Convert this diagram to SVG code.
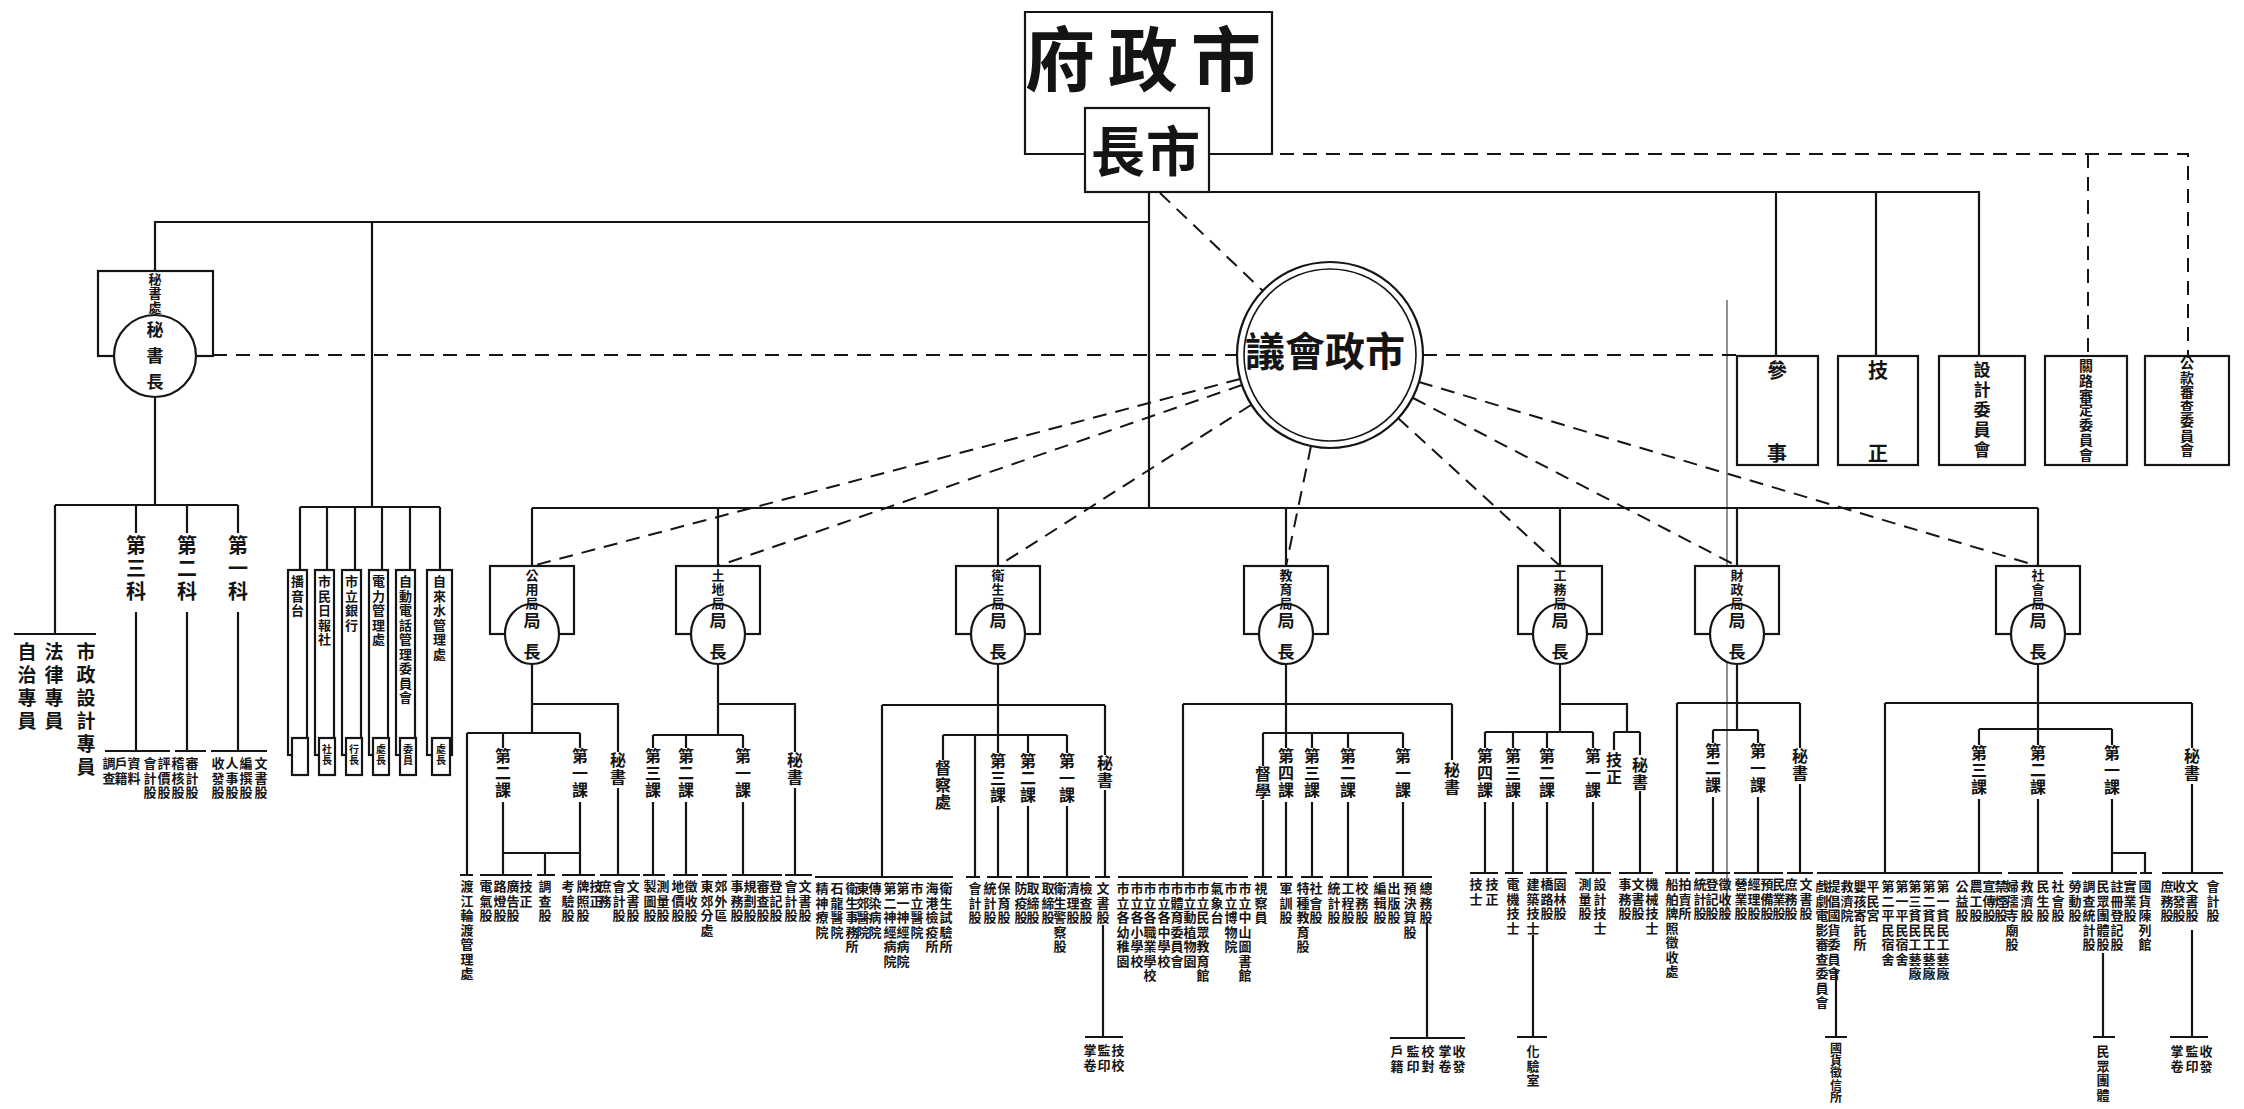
<svg xmlns="http://www.w3.org/2000/svg" width="2244" height="1109" viewBox="0 0 2244 1109">
<style>
.ln{stroke:#151515;stroke-width:2.2;fill:none}
.thin{stroke:#151515;stroke-width:1.6;fill:none}
.ds{stroke:#151515;stroke-width:2;fill:none;stroke-dasharray:14 9}
.box{fill:#fff;stroke:#151515;stroke-width:2.2}
.t{font-family:"Noto Sans CJK TC","Noto Sans CJK SC","Noto Sans CJK JP",sans-serif;font-weight:700;fill:#141414}
.v{writing-mode:vertical-rl}
.a{font-size:13px;letter-spacing:1.5px}
.k{font-size:16px;letter-spacing:1px}
.b{font-size:13px;letter-spacing:1px}
.c{font-size:17px;letter-spacing:14px}
.m{font-size:20px;letter-spacing:3px}
.p{font-size:19px;letter-spacing:4px}
.w{font-size:10px;letter-spacing:1px}
</style>
<rect width="2244" height="1109" fill="#fff"/>

<g id="connectors">
<path class="ln" d="M1209,192H1979V356M1776,192V356M1876,192V356M1149,192V508M155,271V222H1149M372,222V507M532,508H2038M532,508V566M718,508V566M998,508V566M1286,508V566M1560,508V566M1737,508V566M2038,508V566"/>
<path class="ds" d="M1280,154H2188V356M2088,154V356M213,355H1237M1423,355H1737M1160,193L1263,291M1240,379L532,566M1242,385L718,566M1251,405L998,566M1311,446L1286,566M1398,418L1560,566M1413,398L1737,566M1419,382L2038,566"/>
<path class="ln" d="M155,397V505M55,505H238M55,505V634M14,634H96M136,505V533M136,612V751M187,505V533M187,612V751M238,505V533M238,612V751M105,751H170M175,751H206M211,751H267"/>
<path class="ln" d="M300,507H440M300,507V570M327,507V570M355,507V570M382,507V570M410,507V570M440,507V570"/>
<path class="ln" d="M532,664V733M532,704H618V752M618,788V875M467,733H580M467,733V875M503,733V748M503,802V875M580,733V748M580,802V875M503,853H580M545,853V875M460,875H473M480,875H532M537,875H555M562,875H595M600,875H640"/>
<path class="ln" d="M718,664V735M718,704H795V752M795,788V875M653,735H743M653,735V748M653,802V875M686,735V748M686,802V875M743,735V748M743,802V875M643,875H665M673,875H698M702,875H727M732,875H782M785,875H812"/>
<path class="ln" d="M998,664V753M998,806V877M882,705H1105M882,705V877M1105,705V755M1105,790V877M943,735H1067M943,735V760M975,735V877M1028,735V753M1028,806V877M1067,735V753M1067,806V877M1103,925V1037M1085,1037H1123M815,877H953M966,877H980M987,877H1012M1016,877H1040M1043,877H1090M1095,877H1110"/>
<path class="ln" d="M1286,664V748M1286,802V877M1183,704H1452M1183,704V877M1452,704V760M1263,733H1403M1263,733V766M1263,800V877M1312,733V748M1312,802V877M1348,733V748M1348,802V877M1403,733V748M1403,802V877M1427,923V1038M1390,1038H1465M1118,877H1248M1254,877H1272M1277,877H1293M1301,877H1323M1330,877H1368M1373,877H1432"/>
<path class="ln" d="M1560,664V732M1560,704H1627V732M1614,732H1640M1614,732V750M1640,732V755M1640,791V873M1485,732H1593M1485,732V748M1485,802V873M1513,732V748M1513,802V873M1547,732V748M1547,802V873M1593,732V748M1593,802V873M1533,935V1037M1517,1037H1547M1470,873H1498M1505,873H1523M1530,873H1567M1575,873H1611M1619,873H1653"/>
<path class="ln" d="M1737,664V730M1713,730H1758M1713,730V743M1713,797V873M1758,730V743M1758,797V873M1677,703H1800M1677,703V873M1800,703V748M1800,784V873M1665,873H1690M1695,873H1730M1734,873H1783M1787,873H1813"/>
<path class="thin" d="M1727,300V920" stroke-opacity="0.6"/>
<path class="ln" d="M2038,664V745M2038,799V873M1885,703H2192M1885,703V873M2192,703V748M2192,784V873M2192,930V1037M2170,1037H2208M1979,729H2112M1979,729V745M1979,799V873M2112,729V745M2112,799V873M2112,853H2145V873M1836,970V1037M1825,1037H1847M2103,953V1037M2093,1037H2115M1817,873H2002M2008,873H2063M2072,873H2137M2140,873H2152M2162,873H2223"/>
</g>

<g id="city-government">
<path class="ln" d="M1085,154H1025V12H1272V154H1209"/>
<text class="t" x="1025" y="86" font-size="70" letter-spacing="13">府政市</text>
</g>
<g id="mayor">
<rect class="box" x="1085" y="108" width="124" height="84"/>
<text class="t" x="1091" y="172" font-size="54" letter-spacing="1">長市</text>
</g>
<g id="council">
<circle class="box" cx="1330" cy="355" r="93"/>
<circle cx="1330" cy="355" r="86" fill="none" stroke="#151515" stroke-width="1.6"/>
<text class="t" x="1245" y="366" font-size="40">議會政市</text>
</g>

<g id="secretariat">
<rect class="box" x="98" y="271" width="115" height="85"/>
<circle class="box" cx="155" cy="356" r="41"/>
<text class="t v b" x="155" y="273">秘書處</text>
<text class="t v" x="155" y="321" font-size="17" letter-spacing="9">秘書長</text>
<text class="t v p" x="27" y="642">自治專員</text>
<text class="t v p" x="54" y="642">法律專員</text>
<text class="t v p" x="86" y="642">市政設計專員</text>
<text class="t v m" x="136" y="535">第三科</text>
<text class="t v m" x="187" y="535">第二科</text>
<text class="t v m" x="238" y="535">第一科</text>
<text class="t v a" x="109" y="757">調查</text>
<text class="t v a" x="121" y="757">戶籍</text>
<text class="t v a" x="134" y="757">資料</text>
<text class="t v a" x="150" y="757">會計股</text>
<text class="t v a" x="164" y="757">評價股</text>
<text class="t v a" x="178" y="757">稽核股</text>
<text class="t v a" x="192" y="757">審計股</text>
<text class="t v a" x="218" y="757">收發股</text>
<text class="t v a" x="232" y="757">人事股</text>
<text class="t v a" x="246" y="757">編撰股</text>
<text class="t v a" x="261" y="757">文書股</text>
</g>

<g id="enterprises">
<rect class="box" x="288" y="570" width="19" height="185"/>
<rect class="box" x="315" y="570" width="19" height="185"/>
<rect class="box" x="342" y="570" width="19" height="185"/>
<rect class="box" x="369" y="570" width="19" height="185"/>
<rect class="box" x="396" y="570" width="19" height="185"/>
<rect class="box" x="427" y="570" width="25" height="185"/>
<rect class="box" x="292" y="738" width="16" height="37"/>
<rect class="box" x="319" y="738" width="16" height="37"/>
<rect class="box" x="346" y="738" width="16" height="37"/>
<rect class="box" x="373" y="738" width="16" height="37"/>
<rect class="box" x="400" y="738" width="16" height="37"/>
<rect class="box" x="432" y="738" width="18" height="37"/>
<text class="t v a" x="297.5" y="575">播音台</text>
<text class="t v a" x="324.5" y="575">市民日報社</text>
<text class="t v a" x="351.5" y="575">市立銀行</text>
<text class="t v a" x="378.5" y="575">電力管理處</text>
<text class="t v a" x="405.5" y="575">自動電話管理委員會</text>
<text class="t v a" x="439.5" y="575">自來水管理處</text>
<text class="t v w" x="327" y="744">社長</text>
<text class="t v w" x="354" y="744">行長</text>
<text class="t v w" x="381" y="744">處長</text>
<text class="t v w" x="408" y="744">委員</text>
<text class="t v w" x="441" y="744">處長</text>
</g>

<g id="advisers">
<rect class="box" x="1737" y="356" width="81" height="109"/>
<rect class="box" x="1838" y="356" width="80" height="109"/>
<rect class="box" x="1939" y="356" width="86" height="109"/>
<rect class="box" x="2045" y="356" width="82" height="109"/>
<rect class="box" x="2145" y="356" width="84" height="109"/>
<text class="t" x="1777" y="378" font-size="20" text-anchor="middle">參</text>
<text class="t" x="1777" y="461" font-size="20" text-anchor="middle">事</text>
<text class="t" x="1878" y="378" font-size="20" text-anchor="middle">技</text>
<text class="t" x="1878" y="461" font-size="20" text-anchor="middle">正</text>
<text class="t v" x="1982" y="361" font-size="17" letter-spacing="3">設計委員會</text>
<text class="t v" x="2086" y="359" font-size="14" letter-spacing="0.7">關路審定委員會</text>
<text class="t v" x="2187" y="356" font-size="14" letter-spacing="0.5">公款審查委員會</text>
</g>

<g id="bureau-public-utilities">
<rect class="box" x="490" y="566" width="84" height="68"/>
<ellipse class="box" cx="532" cy="634" rx="27" ry="30"/>
<text class="t v b" x="532" y="569">公用局</text>
<text class="t v c" x="532" y="612">局長</text>
<text class="t v k" x="503" y="748">第二課</text>
<text class="t v k" x="580" y="748">第一課</text>
<text class="t v k" x="618" y="752">秘書</text>
<text class="t v a" x="467" y="880">渡江輪渡管理處</text>
<text class="t v a" x="486" y="880">電氣股</text>
<text class="t v a" x="500" y="880">路燈股</text>
<text class="t v a" x="513" y="880">廣告股</text>
<text class="t v a" x="526" y="880">技正</text>
<text class="t v a" x="545" y="880">調查股</text>
<text class="t v a" x="568" y="880">考驗股</text>
<text class="t v a" x="583" y="880">牌照股</text>
<text class="t v a" x="596" y="880">技正</text>
<text class="t v a" x="605" y="880">庶務</text>
<text class="t v a" x="619" y="880">會計股</text>
<text class="t v a" x="633" y="880">文書股</text>
</g>

<g id="bureau-land">
<rect class="box" x="676" y="566" width="84" height="68"/>
<ellipse class="box" cx="718" cy="634" rx="27" ry="30"/>
<text class="t v b" x="718" y="569">土地局</text>
<text class="t v c" x="718" y="612">局長</text>
<text class="t v k" x="653" y="748">第三課</text>
<text class="t v k" x="686" y="748">第二課</text>
<text class="t v k" x="743" y="748">第一課</text>
<text class="t v k" x="795" y="752">秘書</text>
<text class="t v a" x="650" y="880">製圖股</text>
<text class="t v a" x="663" y="880">測量股</text>
<text class="t v a" x="678" y="880">地價股</text>
<text class="t v a" x="691" y="880">徵收股</text>
<text class="t v a" x="707" y="880">東郊分處</text>
<text class="t v a" x="721" y="880">郊外區</text>
<text class="t v a" x="737" y="880">事務股</text>
<text class="t v a" x="750" y="880">規劃股</text>
<text class="t v a" x="763" y="880">審查股</text>
<text class="t v a" x="776" y="880">登記股</text>
<text class="t v a" x="791" y="880">會計股</text>
<text class="t v a" x="805" y="880">文書股</text>
</g>

<g id="bureau-health">
<rect class="box" x="956" y="566" width="84" height="68"/>
<ellipse class="box" cx="998" cy="634" rx="27" ry="30"/>
<text class="t v b" x="998" y="569">衛生局</text>
<text class="t v c" x="998" y="612">局長</text>
<text class="t v k" x="943" y="760">督察處</text>
<text class="t v k" x="998" y="753">第三課</text>
<text class="t v k" x="1028" y="753">第二課</text>
<text class="t v k" x="1067" y="753">第一課</text>
<text class="t v k" x="1105" y="755">秘書</text>
<text class="t v a" x="822" y="882">精神療院</text>
<text class="t v a" x="837" y="882">石龍醫院</text>
<text class="t v a" x="852" y="882">衛生事務所</text>
<text class="t v a" x="863" y="882">東郊醫院</text>
<text class="t v a" x="875" y="882">傳染病院</text>
<text class="t v a" x="890" y="882">第二神經病院</text>
<text class="t v a" x="903" y="882">第一神經病院</text>
<text class="t v a" x="917" y="882">市立醫院</text>
<text class="t v a" x="932" y="882">海港檢疫所</text>
<text class="t v a" x="946" y="882">衛生試驗所</text>
<text class="t v a" x="975" y="882">會計股</text>
<text class="t v a" x="990" y="882">統計股</text>
<text class="t v a" x="1004" y="882">保育股</text>
<text class="t v a" x="1021" y="882">防疫股</text>
<text class="t v a" x="1033" y="882">取締股</text>
<text class="t v a" x="1048" y="882">取締股</text>
<text class="t v a" x="1060" y="882">衛生警察股</text>
<text class="t v a" x="1073" y="882">清理股</text>
<text class="t v a" x="1086" y="882">檢查股</text>
<text class="t v a" x="1103" y="882">文書股</text>
<text class="t v a" x="1090" y="1044">掌卷</text>
<text class="t v a" x="1104" y="1044">監印</text>
<text class="t v a" x="1118" y="1044">技校</text>
</g>

<g id="bureau-education">
<rect class="box" x="1244" y="566" width="84" height="68"/>
<ellipse class="box" cx="1286" cy="634" rx="27" ry="30"/>
<text class="t v b" x="1286" y="569">教育局</text>
<text class="t v c" x="1286" y="612">局長</text>
<text class="t v k" x="1263" y="766">督學</text>
<text class="t v k" x="1286" y="748">第四課</text>
<text class="t v k" x="1312" y="748">第三課</text>
<text class="t v k" x="1348" y="748">第二課</text>
<text class="t v k" x="1403" y="748">第一課</text>
<text class="t v k" x="1452" y="762">秘書</text>
<text class="t v a" x="1123" y="882">市立各幼稚園</text>
<text class="t v a" x="1137" y="882">市立各小學校</text>
<text class="t v a" x="1150" y="882">市立各職業學校</text>
<text class="t v a" x="1164" y="882">市立各中學校</text>
<text class="t v a" x="1177" y="882">市體育委員會</text>
<text class="t v a" x="1190" y="882">市立動植物園</text>
<text class="t v a" x="1203" y="882">市立民眾教育館</text>
<text class="t v a" x="1217" y="882">氣象台</text>
<text class="t v a" x="1231" y="882">市立博物院</text>
<text class="t v a" x="1245" y="882">市立中山圖書館</text>
<text class="t v a" x="1261" y="882">視察員</text>
<text class="t v a" x="1286" y="882">軍訓股</text>
<text class="t v a" x="1303" y="882">特種教育股</text>
<text class="t v a" x="1316" y="882">社會股</text>
<text class="t v a" x="1334" y="882">統計股</text>
<text class="t v a" x="1348" y="882">工程股</text>
<text class="t v a" x="1362" y="882">校務股</text>
<text class="t v a" x="1380" y="882">編輯股</text>
<text class="t v a" x="1394" y="882">出版股</text>
<text class="t v a" x="1410" y="882">預決算股</text>
<text class="t v a" x="1426" y="882">總務股</text>
<text class="t v a" x="1397" y="1045">戶籍</text>
<text class="t v a" x="1413" y="1045">監印</text>
<text class="t v a" x="1428" y="1045">校對</text>
<text class="t v a" x="1445" y="1045">掌卷</text>
<text class="t v a" x="1459" y="1045">收發</text>
</g>

<g id="bureau-public-works">
<rect class="box" x="1518" y="566" width="84" height="68"/>
<ellipse class="box" cx="1560" cy="634" rx="27" ry="30"/>
<text class="t v b" x="1560" y="569">工務局</text>
<text class="t v c" x="1560" y="612">局長</text>
<text class="t v k" x="1485" y="748">第四課</text>
<text class="t v k" x="1513" y="748">第三課</text>
<text class="t v k" x="1547" y="748">第二課</text>
<text class="t v k" x="1593" y="748">第一課</text>
<text class="t v k" x="1614" y="752">技正</text>
<text class="t v k" x="1640" y="757">秘書</text>
<text class="t v a" x="1476" y="878">技士</text>
<text class="t v a" x="1492" y="878">技正</text>
<text class="t v a" x="1513" y="878">電機技士</text>
<text class="t v a" x="1533" y="878">建築技士</text>
<text class="t v a" x="1547" y="878">橋路股</text>
<text class="t v a" x="1560" y="878">園林股</text>
<text class="t v a" x="1585" y="878">測量股</text>
<text class="t v a" x="1600" y="878">設計技士</text>
<text class="t v a" x="1625" y="878">事務股</text>
<text class="t v a" x="1638" y="878">文書股</text>
<text class="t v a" x="1652" y="878">機械技士</text>
<text class="t v a" x="1533" y="1045">化驗室</text>
</g>

<g id="bureau-finance">
<rect class="box" x="1695" y="566" width="84" height="68"/>
<ellipse class="box" cx="1737" cy="634" rx="27" ry="30"/>
<text class="t v b" x="1737" y="569">財政局</text>
<text class="t v c" x="1737" y="612">局長</text>
<text class="t v k" x="1713" y="743">第二課</text>
<text class="t v k" x="1758" y="743">第一課</text>
<text class="t v k" x="1800" y="748">秘書</text>
<text class="t v a" x="1672" y="878">船舶牌照徵收處</text>
<text class="t v a" x="1685" y="878">拍賣所</text>
<text class="t v a" x="1700" y="878">統計股</text>
<text class="t v a" x="1712" y="878">登記股</text>
<text class="t v a" x="1725" y="878">徵收股</text>
<text class="t v a" x="1741" y="878">營業股</text>
<text class="t v a" x="1754" y="878">經理股</text>
<text class="t v a" x="1767" y="878">預備股</text>
<text class="t v a" x="1779" y="878">民業股</text>
<text class="t v a" x="1791" y="878">庶務股</text>
<text class="t v a" x="1806" y="878">文書股</text>
</g>

<g id="bureau-social">
<rect class="box" x="1996" y="566" width="84" height="68"/>
<ellipse class="box" cx="2038" cy="634" rx="27" ry="30"/>
<text class="t v b" x="2038" y="569">社會局</text>
<text class="t v c" x="2038" y="612">局長</text>
<text class="t v k" x="1979" y="745">第三課</text>
<text class="t v k" x="2038" y="745">第二課</text>
<text class="t v k" x="2112" y="745">第一課</text>
<text class="t v k" x="2192" y="748">秘書</text>
<text class="t v a" x="1822" y="880">戲劇電影審查委員會</text>
<text class="t v a" x="1834" y="880">提倡國貨委員會</text>
<text class="t v a" x="1847" y="880">救濟院</text>
<text class="t v a" x="1860" y="880">嬰孩寄託所</text>
<text class="t v a" x="1873" y="880">平民宮</text>
<text class="t v a" x="1888" y="880">第二平民宿舍</text>
<text class="t v a" x="1902" y="880">第一平民宿舍</text>
<text class="t v a" x="1915" y="880">第三貧民工藝廠</text>
<text class="t v a" x="1929" y="880">第二貧民工藝廠</text>
<text class="t v a" x="1943" y="880">第一貧民工藝廠</text>
<text class="t v" x="1836" y="1042" font-size="12" letter-spacing="0.4">國貨徵信所</text>
<text class="t v a" x="1962" y="880">公益股</text>
<text class="t v a" x="1976" y="880">農工股</text>
<text class="t v a" x="1989" y="880">宣傳股</text>
<text class="t v a" x="2001" y="880">禁煙股</text>
<text class="t v a" x="2012" y="880">婦孺寺廟股</text>
<text class="t v a" x="2027" y="880">救濟股</text>
<text class="t v a" x="2043" y="880">民生股</text>
<text class="t v a" x="2058" y="880">社會股</text>
<text class="t v a" x="2075" y="880">勞動股</text>
<text class="t v a" x="2089" y="880">調查統計股</text>
<text class="t v a" x="2103" y="880">民眾團體股</text>
<text class="t v a" x="2117" y="880">註冊登記股</text>
<text class="t v a" x="2130" y="880">實業股</text>
<text class="t v a" x="2145" y="880">國貨陳列館</text>
<text class="t v a" x="2167" y="880">庶務股</text>
<text class="t v a" x="2179" y="880">收發股</text>
<text class="t v a" x="2192" y="880">文書股</text>
<text class="t v a" x="2213" y="880">會計股</text>
<text class="t v a" x="2103" y="1045">民眾團體</text>
<text class="t v a" x="2177" y="1045">掌卷</text>
<text class="t v a" x="2192" y="1045">監印</text>
<text class="t v a" x="2206" y="1045">收發</text>
</g>
</svg>
